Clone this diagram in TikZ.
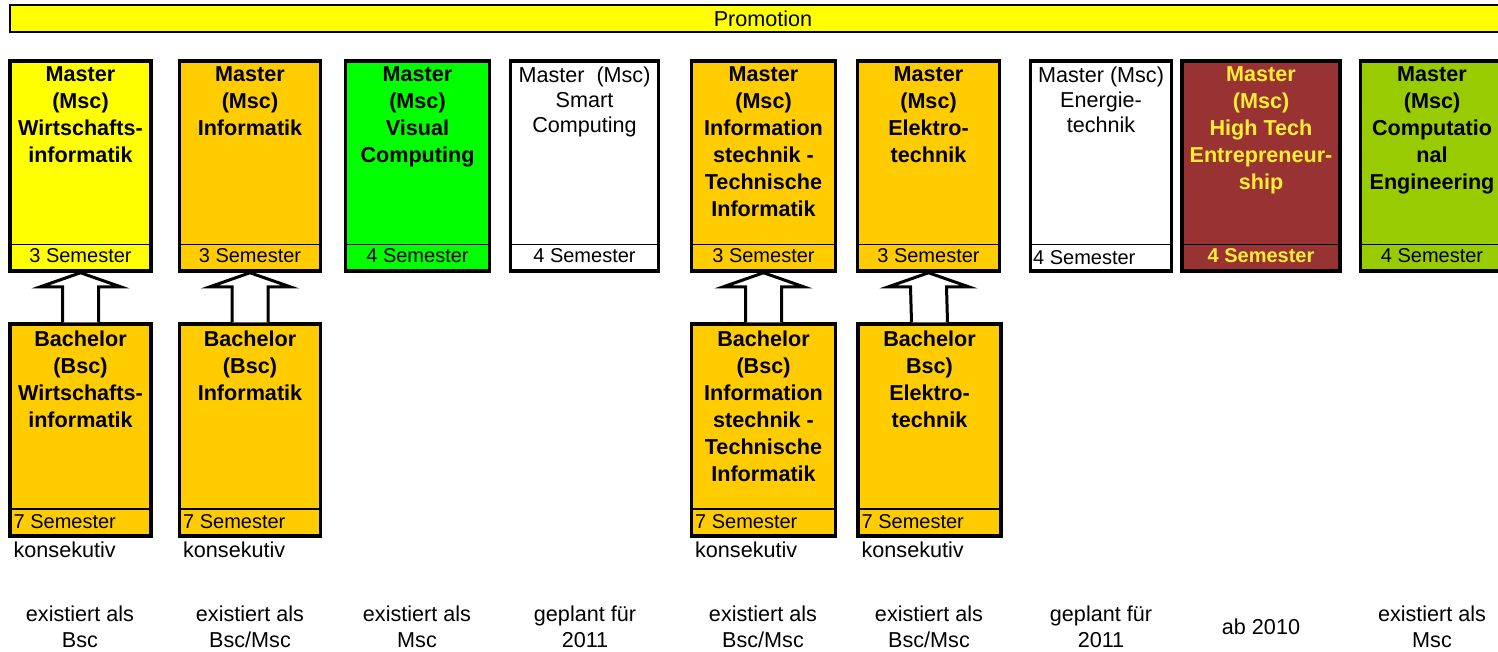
\documentclass[tikz,border=0pt]{standalone}
\usepackage{fontspec}
\setmainfont{Liberation Sans}
\usepackage{xcolor}
\usepackage{tikz}
\usetikzlibrary{positioning, calc}

\definecolor{promoyellow}{HTML}{FFFF00}
\definecolor{bscorange}{HTML}{FFCC00}
\definecolor{vcgreen}{HTML}{00FF00}
\definecolor{htered}{HTML}{993333}
\definecolor{htetext}{HTML}{FFEE33}
\definecolor{cegreen}{HTML}{99CC00}

\tikzset{
  progbox/.style={draw, line width=1.75pt, minimum width=70.5pt, minimum height=105pt, inner sep=0pt},
  bscbox/.style={progbox, minimum height=106pt, fill=bscorange},
  boxtitle/.style={anchor=north, align=center, inner sep=0pt, font=\fontsize{10.8}{13.5}\selectfont\bfseries},
  plaintitle/.style={anchor=north, align=center, inner sep=0pt, font=\fontsize{10.8}{12.5}\selectfont},
  divider/.style={line width=0.75pt},
  semtext/.style={inner sep=0pt, font=\fontsize{10}{12}\selectfont},
  note/.style={inner sep=0pt, align=center, font=\fontsize{10.8}{13}\selectfont},
  blockarrow/.style={draw, fill=white, line width=1.5pt, line join=miter},
}

\begin{document}
\begin{tikzpicture}[x=0.5pt, y=-0.5pt]
\useasboundingbox (0, 0) rectangle (1498, 652);

% Promotion
\node[draw, line width=1pt, fill=promoyellow, minimum width=753pt, minimum height=13.5pt, inner sep=0pt,
  font=\fontsize{10.8}{13}\selectfont] (promo) at (763, 19) {Promotion};

% Master
\node[progbox, fill=promoyellow] (mWI) at (80.5, 166) {};
\node[progbox, fill=bscorange] (mInf) at (250, 166) {};
\node[progbox, fill=vcgreen, minimum width=72pt] (mVC) at (417.5, 166) {};
\node[progbox, fill=white, minimum width=74pt] (mSC) at (584.5, 166) {};
\node[progbox, fill=bscorange, minimum width=72pt] (mIT) at (763.5, 166) {};
\node[progbox, fill=bscorange, minimum width=71pt] (mET) at (928.5, 166) {};
\node[progbox, fill=white] (mEnT) at (1101, 166) {};
\node[progbox, fill=htered, minimum width=79pt] (mHTE) at (1261, 166) {};
\node[progbox, fill=cegreen, minimum width=71.5pt] (mCE) at (1432, 166) {};

\node[boxtitle] (tWI) at ($(mWI.north)+(0, 7)$) {Master\\(Msc)\\Wirtschafts-\\informatik};
\node[boxtitle] (tInf) at ($(mInf.north)+(0, 7)$) {Master\\(Msc)\\Informatik};
\node[boxtitle] (tVC) at ($(mVC.north)+(0, 7)$) {Master\\(Msc)\\Visual\\Computing};
\node[plaintitle] (tSC) at ($(mSC.north)+(0, 7)$) {Master\ \ (Msc)\\Smart\\Computing};
\node[boxtitle] (tIT) at ($(mIT.north)+(0, 7)$) {Master\\(Msc)\\Information\\stechnik -\\Technische\\Informatik};
\node[boxtitle] (tET) at ($(mET.north)+(0, 7)$) {Master\\(Msc)\\Elektro-\\technik};
\node[plaintitle] (tEnT) at ($(mEnT.north)+(0, 7)$) {Master (Msc)\\Energie-\\technik};
\node[boxtitle, text=htetext] (tHTE) at ($(mHTE.north)+(0, 7)$) {Master\\(Msc)\\High Tech\\Entrepreneur-\\ship};
\node[boxtitle] (tCE) at ($(mCE.north)+(0, 7)$) {Master\\(Msc)\\Computatio\\nal\\Engineering};

\draw[divider] ($(mWI.south west)+(0, -28)$) -- ($(mWI.south east)+(0, -28)$);
\draw[divider] ($(mInf.south west)+(0, -28)$) -- ($(mInf.south east)+(0, -28)$);
\draw[divider] ($(mVC.south west)+(0, -28)$) -- ($(mVC.south east)+(0, -28)$);
\draw[divider] ($(mSC.south west)+(0, -28)$) -- ($(mSC.south east)+(0, -28)$);
\draw[divider] ($(mIT.south west)+(0, -28)$) -- ($(mIT.south east)+(0, -28)$);
\draw[divider] ($(mET.south west)+(0, -28)$) -- ($(mET.south east)+(0, -28)$);
\draw[divider] ($(mEnT.south west)+(0, -28)$) -- ($(mEnT.south east)+(0, -28)$);
\draw[divider] ($(mHTE.south west)+(0, -28)$) -- ($(mHTE.south east)+(0, -28)$);
\draw[divider] ($(mCE.south west)+(0, -28)$) -- ($(mCE.south east)+(0, -28)$);

\node[semtext] (sWI) at ($(mWI.south)+(0, -17)$) {3 Semester};
\node[semtext] (sInf) at ($(mInf.south)+(0, -17)$) {3 Semester};
\node[semtext] (sVC) at ($(mVC.south)+(0, -17)$) {4 Semester};
\node[semtext] (sSC) at ($(mSC.south)+(0, -17)$) {4 Semester};
\node[semtext] (sIT) at ($(mIT.south)+(0, -17)$) {3 Semester};
\node[semtext] (sET) at ($(mET.south)+(0, -17)$) {3 Semester};
\node[semtext, anchor=west] (sEnT) at ($(mEnT.south west)+(4, -15)$) {4 Semester};
\node[semtext, text=htetext, font=\fontsize{10}{12}\selectfont\bfseries] (sHTE) at ($(mHTE.south)+(0, -17)$) {4 Semester};
\node[semtext] (sCE) at ($(mCE.south)+(0, -17)$) {4 Semester};

% Bachelor
\node[bscbox] (bWI) at (80.5, 430) {};
\node[bscbox] (bInf) at (250, 430) {};
\node[bscbox, minimum width=72pt] (bIT) at (763.5, 430) {};
\node[bscbox, minimum width=71.5pt] (bET) at (929.5, 430) {};

\node[boxtitle] (uWI) at ($(bWI.north)+(0, 8)$) {Bachelor\\(Bsc)\\Wirtschafts-\\informatik};
\node[boxtitle] (uInf) at ($(bInf.north)+(0, 8)$) {Bachelor\\(Bsc)\\Informatik};
\node[boxtitle] (uIT) at ($(bIT.north)+(0, 8)$) {Bachelor\\(Bsc)\\Information\\stechnik -\\Technische\\Informatik};
\node[boxtitle] (uET) at ($(bET.north)+(0, 8)$) {Bachelor\\Bsc)\\Elektro-\\technik};

\draw[divider] ($(bWI.south west)+(0, -29)$) -- ($(bWI.south east)+(0, -29)$);
\draw[divider] ($(bInf.south west)+(0, -29)$) -- ($(bInf.south east)+(0, -29)$);
\draw[divider] ($(bIT.south west)+(0, -29)$) -- ($(bIT.south east)+(0, -29)$);
\draw[divider] ($(bET.south west)+(0, -29)$) -- ($(bET.south east)+(0, -29)$);

\node[semtext, anchor=west] (rWI) at ($(bWI.south west)+(5, -16)$) {7 Semester};
\node[semtext, anchor=west] (rInf) at ($(bInf.south west)+(5, -16)$) {7 Semester};
\node[semtext, anchor=west] (rIT) at ($(bIT.south west)+(5, -16)$) {7 Semester};
\node[semtext, anchor=west] (rET) at ($(bET.south west)+(5, -16)$) {7 Semester};

\node[note, anchor=north west] (kWI) at ($(bWI.south west)+(5, 4)$) {konsekutiv};
\node[note, anchor=north west] (kInf) at ($(bInf.south west)+(5, 4)$) {konsekutiv};
\node[note, anchor=north west] (kIT) at ($(bIT.south west)+(5, 4)$) {konsekutiv};
\node[note, anchor=north west] (kET) at ($(bET.south west)+(5, 4)$) {konsekutiv};

% Pfeile Bachelor -> Master
\draw[blockarrow] ($(bWI.north)+(-18, 0)$) -- ($(mWI.south)+(-18, 14)$) -- ($(mWI.south)+(-40, 14)$)
  -- (mWI.south) -- ($(mWI.south)+(40, 14)$) -- ($(mWI.south)+(18, 14)$) -- ($(bWI.north)+(18, 0)$);
\draw[blockarrow] ($(bInf.north)+(-18, 0)$) -- ($(mInf.south)+(-18, 14)$) -- ($(mInf.south)+(-40, 14)$)
  -- (mInf.south) -- ($(mInf.south)+(40, 14)$) -- ($(mInf.south)+(18, 14)$) -- ($(bInf.north)+(18, 0)$);
\draw[blockarrow] ($(bIT.north)+(-18, 0)$) -- ($(mIT.south)+(-18, 14)$) -- ($(mIT.south)+(-40, 14)$)
  -- (mIT.south) -- ($(mIT.south)+(40, 14)$) -- ($(mIT.south)+(18, 14)$) -- ($(bIT.north)+(18, 0)$);
\draw[blockarrow] ($(bET.north)+(-18, 0)$) -- ($(mET.south)+(-18, 14)$) -- ($(mET.south)+(-40, 14)$)
  -- (mET.south) -- ($(mET.south)+(40, 14)$) -- ($(mET.south)+(18, 14)$) -- ($(bET.north)+(18, 0)$);

% Status
\node[note] (lWI) at (80, 627) {existiert als\\Bsc};
\node[note] (lInf) at (250, 627) {existiert als\\Bsc/Msc};
\node[note] (lVC) at (417, 627) {existiert als\\Msc};
\node[note] (lSC) at (585, 627) {geplant für\\2011};
\node[note] (lIT) at (763, 627) {existiert als\\Bsc/Msc};
\node[note] (lET) at (929, 627) {existiert als\\Bsc/Msc};
\node[note] (lEnT) at (1101, 627) {geplant für\\2011};
\node[note] (lHTE) at (1261, 627) {ab 2010};
\node[note] (lCE) at (1432, 627) {existiert als\\Msc};
\end{tikzpicture}
\end{document}
